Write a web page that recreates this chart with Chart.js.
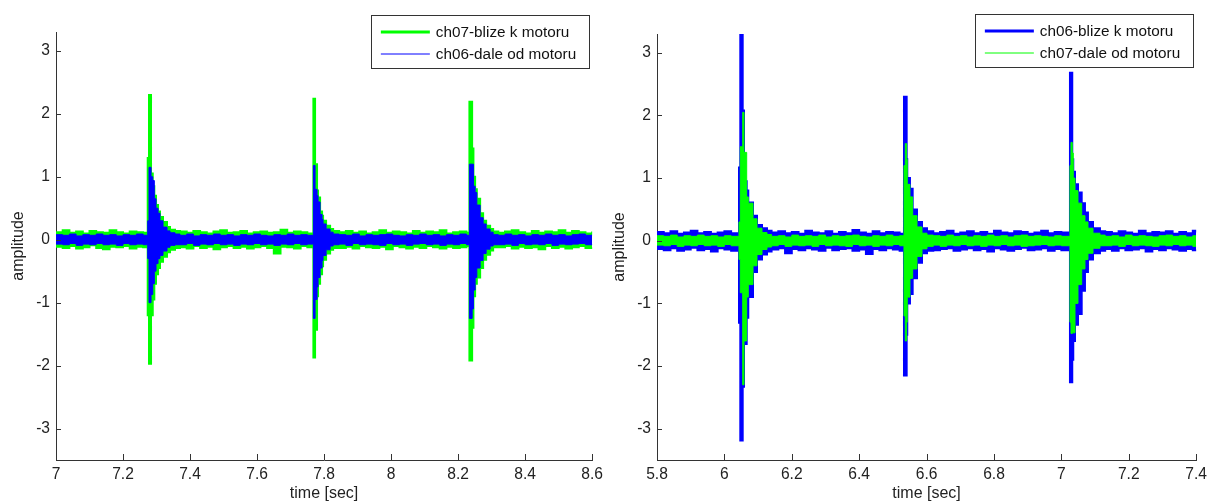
<!DOCTYPE html>
<html>
<head>
<meta charset="utf-8">
<script src="https://cdn.jsdelivr.net/npm/chart.js@4.4.0/dist/chart.umd.min.js"></script>
<style>
  html, body { margin: 0; padding: 0; background: #fff; overflow: hidden; }
  .panel { position: absolute; top: 0; width: 608px; height: 503px; }
  #leftPanel { left: 0; }
  #rightPanel { left: 604px; }
</style>
</head>
<body>
<div class="panel" id="leftPanel"><canvas id="leftChart"></canvas></div>
<div class="panel" id="rightPanel"><canvas id="rightChart"></canvas></div>
<script>
const yTicks = [-3, -2, -1, 0, 1, 2, 3];
const leftXTicks = [7, 7.2, 7.4, 7.6, 7.8, 8, 8.2, 8.4, 8.6];
const rightXTicks = [5.8, 6, 6.2, 6.4, 6.6, 6.8, 7, 7.2, 7.4];
const leftLabels = ["ch07-blize k motoru", "ch06-dale od motoru"];
const rightLabels = ["ch06-blize k motoru", "ch07-dale od motoru"];

// envelope of the signals (upper / lower edge)
const leftTime = [
  7.00, 7.02, 7.04, 7.06, 7.08, 7.10, 7.12, 7.14, 7.16, 7.18, 7.20, 7.22, 7.24, 7.26,
  7.2737, 7.2776, 7.2836, 7.2887, 7.2934, 7.2985, 7.3045, 7.3104, 7.3194, 7.3313, 7.3403, 7.3552,
  7.37, 7.39, 7.41, 7.43, 7.45, 7.47, 7.49, 7.51, 7.53, 7.55, 7.57, 7.59, 7.61, 7.63, 7.65, 7.67, 7.69, 7.71, 7.73, 7.75,
  7.7681, 7.7731, 7.7790, 7.7820, 7.7881, 7.7940, 7.7970, 7.8060, 7.8180, 7.8270,
  7.845, 7.865, 7.885, 7.905, 7.925, 7.945, 7.965, 7.985, 8.005, 8.025, 8.045, 8.065, 8.085, 8.105, 8.125, 8.145, 8.165, 8.185, 8.205, 8.225,
  8.2337, 8.2418, 8.2457, 8.2507, 8.2558, 8.2657, 8.2746, 8.2836, 8.2955, 8.3045,
  8.32, 8.34, 8.36, 8.38, 8.40, 8.42, 8.44, 8.46, 8.48, 8.50, 8.52, 8.54, 8.56, 8.58, 8.60
];
const leftGreenHi = [
  0.12, 0.15, 0.11, 0.13, 0.10, 0.14, 0.12, 0.11, 0.15, 0.12, 0.10, 0.13, 0.12, 0.11,
  1.3, 2.3, 1.05, 0.85, 0.7, 0.55, 0.45, 0.36, 0.28, 0.2, 0.16, 0.14,
  0.13, 0.11, 0.14, 0.12, 0.10, 0.13, 0.15, 0.11, 0.12, 0.14, 0.10, 0.12, 0.13, 0.11, 0.12, 0.16, 0.11, 0.13, 0.12, 0.10,
  2.24, 1.2, 0.78, 0.67, 0.45, 0.38, 0.3, 0.22, 0.17, 0.14,
  0.12, 0.14, 0.11, 0.13, 0.10, 0.12, 0.15, 0.11, 0.13, 0.12, 0.10, 0.14, 0.11, 0.13, 0.12, 0.15, 0.10, 0.12, 0.13, 0.11,
  2.19, 1.45, 1.0, 0.8, 0.65, 0.42, 0.3, 0.22, 0.17, 0.13,
  0.11, 0.13, 0.15, 0.12, 0.10, 0.14, 0.11, 0.13, 0.12, 0.15, 0.11, 0.14, 0.12, 0.10, 0.13
];
const leftGreenLo = [
  -0.11, -0.13, -0.10, -0.14, -0.12, -0.09, -0.13, -0.15, -0.11, -0.12, -0.10, -0.14, -0.11, -0.12,
  -1.2, -1.97, -1.2, -0.95, -0.7, -0.55, -0.45, -0.35, -0.27, -0.2, -0.16, -0.13,
  -0.12, -0.14, -0.10, -0.13, -0.11, -0.15, -0.12, -0.10, -0.13, -0.11, -0.14, -0.12, -0.10, -0.13, -0.22, -0.11, -0.12, -0.14, -0.10, -0.12,
  -1.87, -1.43, -0.9, -0.7, -0.55, -0.42, -0.32, -0.22, -0.16, -0.13,
  -0.13, -0.11, -0.14, -0.10, -0.12, -0.13, -0.11, -0.15, -0.10, -0.12, -0.14, -0.11, -0.13, -0.10, -0.12, -0.14, -0.11, -0.13, -0.12, -0.10,
  -1.92, -1.4, -0.9, -0.7, -0.6, -0.45, -0.32, -0.24, -0.17, -0.12,
  -0.12, -0.10, -0.14, -0.11, -0.13, -0.12, -0.15, -0.10, -0.13, -0.11, -0.14, -0.12, -0.10, -0.13, -0.12
];
const leftBlueHi = [
  0.08, 0.07, 0.09, 0.06, 0.08, 0.07, 0.09, 0.07, 0.08, 0.06, 0.08, 0.07, 0.09, 0.07,
  0.3, 1.15, 1.0, 0.94, 0.65, 0.5, 0.42, 0.3, 0.2, 0.14, 0.11, 0.09,
  0.07, 0.09, 0.06, 0.08, 0.07, 0.09, 0.07, 0.08, 0.06, 0.08, 0.07, 0.09, 0.07, 0.06, 0.08, 0.07, 0.09, 0.07, 0.08, 0.07,
  1.18, 0.8, 0.7, 0.6, 0.4, 0.32, 0.25, 0.17, 0.12, 0.09,
  0.08, 0.07, 0.09, 0.06, 0.08, 0.07, 0.08, 0.09, 0.07, 0.06, 0.08, 0.07, 0.09, 0.07, 0.08, 0.06, 0.08, 0.07, 0.09, 0.07,
  1.2, 1.2, 0.85, 0.75, 0.55, 0.35, 0.25, 0.17, 0.12, 0.08,
  0.07, 0.09, 0.07, 0.08, 0.06, 0.08, 0.07, 0.09, 0.07, 0.08, 0.06, 0.08, 0.09, 0.07, 0.08
];
const leftBlueLo = [
  -0.07, -0.08, -0.06, -0.09, -0.07, -0.08, -0.06, -0.08, -0.07, -0.09, -0.06, -0.08, -0.07, -0.08,
  -0.3, -1.0, -0.87, -0.7, -0.5, -0.38, -0.3, -0.25, -0.18, -0.12, -0.09, -0.08,
  -0.08, -0.06, -0.09, -0.07, -0.08, -0.06, -0.08, -0.07, -0.09, -0.07, -0.08, -0.06, -0.08, -0.07, -0.09, -0.07, -0.08, -0.06, -0.08, -0.07,
  -1.25, -0.95, -0.75, -0.6, -0.45, -0.33, -0.25, -0.16, -0.1, -0.08,
  -0.07, -0.09, -0.06, -0.08, -0.07, -0.08, -0.09, -0.06, -0.08, -0.07, -0.09, -0.07, -0.06, -0.08, -0.07, -0.09, -0.07, -0.08, -0.06, -0.08,
  -1.25, -1.1, -0.8, -0.6, -0.45, -0.33, -0.22, -0.15, -0.1, -0.08,
  -0.08, -0.07, -0.09, -0.06, -0.08, -0.07, -0.08, -0.06, -0.09, -0.07, -0.08, -0.07, -0.06, -0.08, -0.07
];

const rightTime = [
  5.80, 5.82, 5.84, 5.86, 5.88, 5.90, 5.92, 5.94, 5.96, 5.98, 6.00, 6.02,
  6.0433, 6.0472, 6.0543, 6.0582, 6.0662, 6.0709, 6.0849, 6.0967, 6.1116, 6.1264,
  6.14, 6.16, 6.18, 6.20, 6.22, 6.24, 6.26, 6.28, 6.30, 6.32, 6.34, 6.36, 6.38, 6.40, 6.42, 6.44, 6.46, 6.48, 6.50, 6.52,
  6.5329, 6.5368, 6.5409, 6.5427, 6.5507, 6.5587, 6.5715, 6.5864, 6.6012,
  6.62, 6.64, 6.66, 6.68, 6.70, 6.72, 6.74, 6.76, 6.78, 6.80, 6.82, 6.84, 6.86, 6.88, 6.90, 6.92, 6.94, 6.96, 6.98, 7.00,
  7.0255, 7.0285, 7.0323, 7.0353, 7.0404, 7.0493, 7.0603, 7.0700, 7.0789, 7.0938, 7.1145,
  7.13, 7.15, 7.17, 7.19, 7.21, 7.23, 7.25, 7.27, 7.29, 7.31, 7.33, 7.35, 7.37, 7.39, 7.40
];
const rightBlueHi = [
  0.14, 0.12, 0.15, 0.11, 0.13, 0.16, 0.12, 0.14, 0.11, 0.13, 0.15, 0.12,
  1.17, 3.3, 2.08, 0.95, 0.8, 0.61, 0.4, 0.25, 0.2, 0.16,
  0.13, 0.15, 0.12, 0.14, 0.11, 0.16, 0.13, 0.12, 0.15, 0.11, 0.14, 0.12, 0.17, 0.13, 0.11, 0.15, 0.12, 0.14, 0.13, 0.11,
  2.3, 2.3, 1.3, 1.0, 0.83, 0.5, 0.3, 0.2, 0.15,
  0.12, 0.14, 0.16, 0.11, 0.13, 0.15, 0.12, 0.14, 0.11, 0.16, 0.13, 0.12, 0.15, 0.14, 0.11, 0.13, 0.16, 0.12, 0.14, 0.13,
  2.68, 2.68, 1.3, 1.1, 0.9, 0.77, 0.6, 0.45, 0.3, 0.2, 0.15,
  0.14, 0.12, 0.15, 0.13, 0.11, 0.16, 0.12, 0.14, 0.13, 0.15, 0.11, 0.14, 0.12, 0.16, 0.13
];
const rightBlueLo = [
  -0.13, -0.15, -0.12, -0.16, -0.14, -0.11, -0.15, -0.13, -0.17, -0.12, -0.14, -0.16,
  -1.31, -3.19, -2.33, -1.65, -1.23, -0.9, -0.5, -0.3, -0.22, -0.17,
  -0.14, -0.12, -0.20, -0.13, -0.15, -0.12, -0.14, -0.16, -0.11, -0.15, -0.13, -0.12, -0.16, -0.14, -0.21, -0.13, -0.15, -0.12, -0.14, -0.16,
  -2.15, -2.15, -1.5, -1.0, -0.85, -0.6, -0.35, -0.2, -0.16,
  -0.15, -0.13, -0.12, -0.16, -0.14, -0.12, -0.15, -0.13, -0.17, -0.12, -0.14, -0.16, -0.13, -0.11, -0.15, -0.14, -0.12, -0.16, -0.13, -0.15,
  -2.26, -2.26, -1.9, -1.6, -1.34, -1.17, -0.8, -0.5, -0.3, -0.2, -0.16,
  -0.13, -0.16, -0.12, -0.15, -0.14, -0.12, -0.17, -0.13, -0.15, -0.12, -0.14, -0.16, -0.13, -0.15, -0.14
];
const rightGreenHi = [
  0.08, 0.07, 0.09, 0.06, 0.08, 0.07, 0.09, 0.07, 0.08, 0.06, 0.08, 0.07,
  0.3, 1.5, 2.05, 1.41, 0.7, 0.6, 0.35, 0.2, 0.13, 0.1,
  0.07, 0.08, 0.06, 0.09, 0.07, 0.08, 0.07, 0.09, 0.06, 0.08, 0.07, 0.08, 0.09, 0.07, 0.06, 0.08, 0.07, 0.09, 0.07, 0.08,
  1.2, 1.55, 1.3, 0.9, 0.7, 0.4, 0.22, 0.12, 0.09,
  0.08, 0.07, 0.09, 0.07, 0.08, 0.06, 0.08, 0.07, 0.09, 0.07, 0.08, 0.06, 0.08, 0.09, 0.07, 0.08, 0.07, 0.06, 0.08, 0.07,
  1.2, 1.57, 1.4, 1.0, 0.8, 0.6, 0.4, 0.3, 0.2, 0.12, 0.09,
  0.07, 0.08, 0.06, 0.09, 0.07, 0.08, 0.07, 0.06, 0.08, 0.09, 0.07, 0.08, 0.06, 0.08, 0.07
];
const rightGreenLo = [
  -0.07, -0.08, -0.06, -0.09, -0.07, -0.08, -0.06, -0.08, -0.07, -0.09, -0.06, -0.08,
  -0.3, -0.83, -2.3, -1.6, -0.9, -0.7, -0.4, -0.22, -0.14, -0.1,
  -0.08, -0.06, -0.09, -0.07, -0.08, -0.07, -0.09, -0.06, -0.08, -0.07, -0.08, -0.09, -0.06, -0.08, -0.07, -0.09, -0.07, -0.08, -0.06, -0.08,
  -1.2, -1.6, -1.3, -0.9, -0.6, -0.45, -0.25, -0.13, -0.09,
  -0.07, -0.09, -0.07, -0.08, -0.06, -0.08, -0.07, -0.09, -0.07, -0.08, -0.06, -0.08, -0.07, -0.09, -0.08, -0.07, -0.06, -0.08, -0.07, -0.08,
  -1.3, -1.48, -1.47, -1.47, -1.0, -0.7, -0.45, -0.3, -0.2, -0.12, -0.08,
  -0.08, -0.07, -0.09, -0.06, -0.08, -0.07, -0.08, -0.09, -0.07, -0.08, -0.06, -0.08, -0.07, -0.09, -0.08
];

const GREEN = "#00ff00";
const BLUE = "#0000ff";
const AXIS = "#333333";
const FONT = "'Liberation Sans', Arial, sans-serif";

function band(time, values) {
  return time.map((t, i) => ({ x: t, y: values[i] }));
}

function envelope(time, hi, lo, color, width) {
  const common = {
    borderColor: color,
    backgroundColor: color,
    borderWidth: width,
    pointRadius: 0,
    stepped: true,
    tension: 0,
  };
  return [
    Object.assign({ data: band(time, hi), fill: false }, common),
    Object.assign({ data: band(time, lo), fill: "-1" }, common),
  ];
}

// MATLAB style ticks pointing into the axes
const inwardTicks = {
  id: "inwardTicks",
  afterDraw(chart) {
    const { ctx, chartArea, scales } = chart;
    ctx.save();
    ctx.strokeStyle = AXIS;
    ctx.lineWidth = 1;
    ctx.beginPath();
    scales.x.ticks.forEach((t) => {
      const px = Math.round(scales.x.getPixelForValue(t.value)) + 0.5;
      ctx.moveTo(px, chartArea.bottom);
      ctx.lineTo(px, chartArea.bottom - 6);
    });
    scales.y.ticks.forEach((t) => {
      const py = Math.round(scales.y.getPixelForValue(t.value)) + 0.5;
      ctx.moveTo(chartArea.left, py);
      ctx.lineTo(chartArea.left + 5, py);
    });
    ctx.stroke();
    ctx.restore();
  },
};

// boxed legend in the upper right corner
const boxLegend = {
  id: "boxLegend",
  afterDraw(chart, args, opts) {
    const { ctx, chartArea } = chart;
    ctx.save();
    ctx.font = "15.3px " + FONT;
    let textW = 0;
    opts.items.forEach((it) => {
      textW = Math.max(textW, ctx.measureText(it.label).width);
    });
    const boxW = 10 + 49 + 6 + textW + 13;
    const right = chartArea.right - 3;
    const left = right - boxW;
    const top = opts.top;
    ctx.fillStyle = "#fff";
    ctx.fillRect(left, top, boxW, 53);
    ctx.strokeStyle = AXIS;
    ctx.lineWidth = 1;
    ctx.strokeRect(Math.round(left) + 0.5, top + 0.5, Math.round(boxW), 53);
    opts.items.forEach((it, i) => {
      const cy = top + 17 + i * 22;
      ctx.strokeStyle = it.color;
      ctx.lineWidth = it.width;
      ctx.beginPath();
      ctx.moveTo(left + 10, cy);
      ctx.lineTo(left + 59, cy);
      ctx.stroke();
      ctx.fillStyle = "#111";
      ctx.textBaseline = "middle";
      ctx.fillText(it.label, left + 65, cy + 1);
    });
    ctx.restore();
  },
};

function makeChart(canvasId, cfg) {
  const back = cfg.series[0];
  const front = cfg.series[1];
  const datasets = envelope(cfg.time, front.hi, front.lo, front.color, front.width)
    .concat(envelope(cfg.time, back.hi, back.lo, back.color, back.width));

  return new Chart(document.getElementById(canvasId), {
    type: "line",
    data: { datasets: datasets },
    plugins: [inwardTicks, boxLegend],
    options: {
      responsive: true,
      maintainAspectRatio: false,
      animation: false,
      events: [],
      layout: { autoPadding: false, padding: { left: 0, right: 12, top: cfg.top, bottom: 0 } },
      plugins: {
        legend: { display: false },
        tooltip: { enabled: false },
        boxLegend: {
          top: cfg.legendTop,
          items: cfg.series.map((s) => ({ label: s.label, color: s.color, width: s.legendWidth })),
        },
      },
      scales: {
        x: {
          type: "linear",
          min: cfg.xTicks[0],
          max: cfg.xTicks[cfg.xTicks.length - 1],
          afterBuildTicks: (s) => { s.ticks = cfg.xTicks.map((v) => ({ value: v })); },
          afterFit: (s) => { s.height = 43; },
          grid: { display: false, drawTicks: false },
          border: { display: true, color: AXIS, width: 1 },
          ticks: {
            autoSkip: false,
            maxRotation: 0,
            padding: 5,
            color: "#222",
            font: { family: FONT, size: 15.6 },
            callback: (v) => String(v),
          },
          title: {
            display: true,
            text: "time [sec]",
            color: "#222",
            font: { family: FONT, size: 16 },
            padding: { top: 0, bottom: 0 },
          },
        },
        y: {
          min: -3.5,
          max: 3.3,
          afterBuildTicks: (s) => { s.ticks = yTicks.map((v) => ({ value: v })); },
          afterFit: (s) => { s.width = cfg.yWidth; },
          grid: { display: false, drawTicks: false },
          border: { display: true, color: AXIS, width: 1 },
          ticks: {
            padding: 6,
            color: "#222",
            font: { family: FONT, size: 15.6 },
            callback: (v) => String(v),
          },
          title: {
            display: true,
            text: "amplitude",
            color: "#222",
            font: { family: FONT, size: 16 },
            padding: { top: cfg.titlePad, bottom: 0 },
          },
        },
      },
    },
  });
}

makeChart("leftChart", {
  time: leftTime,
  xTicks: leftXTicks,
  yWidth: 56,
  titlePad: 9,
  top: 32,
  legendTop: 15,
  series: [
    { label: leftLabels[0], color: GREEN, width: 2, legendWidth: 3, hi: leftGreenHi, lo: leftGreenLo },
    { label: leftLabels[1], color: BLUE, width: 1, legendWidth: 1, hi: leftBlueHi, lo: leftBlueLo },
  ],
});

makeChart("rightChart", {
  time: rightTime,
  xTicks: rightXTicks,
  yWidth: 53,
  titlePad: 6,
  top: 34,
  legendTop: 14,
  series: [
    { label: rightLabels[0], color: BLUE, width: 2, legendWidth: 3, hi: rightBlueHi, lo: rightBlueLo },
    { label: rightLabels[1], color: GREEN, width: 1, legendWidth: 1, hi: rightGreenHi, lo: rightGreenLo },
  ],
});
</script>
</body>
</html>
